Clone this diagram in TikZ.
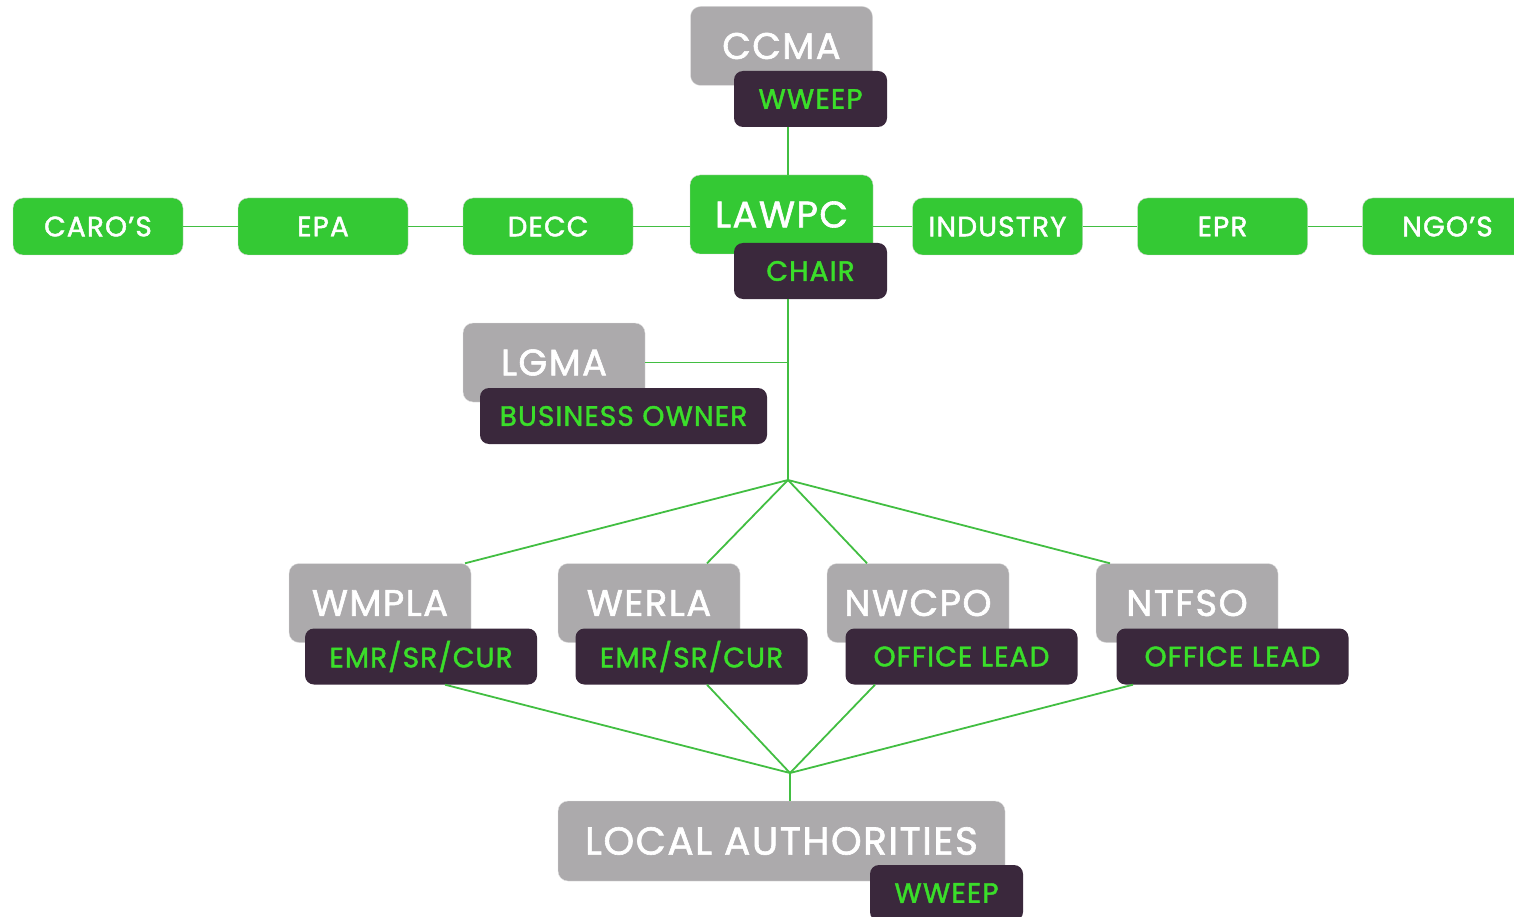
\documentclass[tikz,border=0pt]{standalone}
\usepackage{fontspec}
\setmainfont{Poppins}[FakeBold=1.6, LetterSpace=4]
\usepackage{tikz}
\usetikzlibrary{positioning}
\definecolor{boxgreen}{RGB}{52,201,52}
\definecolor{boxgrey}{RGB}{172,170,172}
\definecolor{tagdark}{RGB}{58,40,60}
\definecolor{taggreen}{RGB}{58,222,42}
\definecolor{linegreen}{RGB}{66,190,66}
\newcommand{\headfont}{\fontsize{37}{40}\selectfont}
\newcommand{\wordfont}{\fontsize{28}{30}\selectfont}
\tikzstyle{greybox} = [rectangle, rounded corners=10pt, minimum width=182pt, minimum height=79pt, text centered, draw=black!12, fill=boxgrey, text=white, font=\headfont]
\tikzstyle{greenbox} = [rectangle, rounded corners=10pt, text centered, draw=black!18, fill=boxgreen, text=white]
\tikzstyle{rowbox} = [greenbox, minimum width=170pt, minimum height=57pt, font=\wordfont]
\tikzstyle{tagbox} = [rectangle, rounded corners=9pt, minimum height=56pt, text centered, fill=tagdark, text=taggreen, font=\wordfont]
\tikzstyle{link} = [line width=1.8pt, draw=linegreen]

\begin{document}
\begin{tikzpicture}[x=1pt, y=-1pt, node distance=225pt]
\useasboundingbox (0,0) rectangle (1514,917);
\clip (0,0) rectangle (1514,917);

\coordinate (upperhub) at (788,480);
\coordinate (lowerhub) at (790,773);

% top of the chain
\node (ccma) [greybox] at (781.5,46) {CCMA};
\node (ccmatag) [tagbox, minimum width=153pt] at (810.5,99) {WWEEP};
\node (lawpc) [greenbox, minimum width=183pt, minimum height=79pt, font=\headfont] at (781.5,214.5) {LAWPC};
\node (chair) [tagbox, minimum width=153pt] at (810.5,271) {CHAIR};

% partners either side
\node (decc) [rowbox] at (548,226.5) {DECC};
\node (epa) [rowbox, left of=decc] {EPA};
\node (caros) [rowbox, left of=epa] {CARO'S};
\node (industry) [rowbox] at (997.5,226.5) {INDUSTRY};
\node (epr) [rowbox, right of=industry] {EPR};
\node (ngos) [rowbox, right of=epr] {NGO'S};

\node (lgma) [greybox] at (554,362.5) {LGMA};
\node (lgmatag) [tagbox, minimum width=287pt] at (623.5,416) {BUSINESS OWNER};

% regional groups
\node (wmpla) [greybox] at (380,603) {WMPLA};
\node (wmplatag) [tagbox, minimum width=232pt] at (421,656.5) {EMR/SR/CUR};
\node (werla) [greybox] at (649,603) {WERLA};
\node (werlatag) [tagbox, minimum width=232pt] at (691.5,656.5) {EMR/SR/CUR};
\node (nwcpo) [greybox] at (918,603) {NWCPO};
\node (nwcpotag) [tagbox, minimum width=232pt] at (961.5,656.5) {OFFICE LEAD};
\node (ntfso) [greybox] at (1187,603) {NTFSO};
\node (ntfsotag) [tagbox, minimum width=232pt] at (1232.5,656.5) {OFFICE LEAD};

\node (local) [greybox, minimum width=447pt, minimum height=80pt, font=\fontsize{39}{42}\selectfont] at (781.5,841) {LOCAL AUTHORITIES};
\node (localtag) [tagbox, minimum width=153pt] at (946.5,893) {WWEEP};

\draw [link] (ccmatag.south -| upperhub) -- (lawpc.north -| upperhub);
\draw [link] (caros) -- (epa);
\draw [link] (epa) -- (decc);
\draw [link] (decc) -- (decc -| lawpc.west);
\draw [link] (lawpc.east |- industry) -- (industry);
\draw [link] (industry) -- (epr);
\draw [link] (epr) -- (ngos);
\draw [link] (chair.south -| upperhub) -- (upperhub);
\draw [link] (lgma.east) -- (lgma.east -| upperhub);

\draw [link] (upperhub) -- ([xshift=85pt]wmpla.north);
\draw [link] (upperhub) -- ([xshift=58pt]werla.north);
\draw [link] (upperhub) -- ([xshift=-51pt]nwcpo.north);
\draw [link] (upperhub) -- ([xshift=-77pt]ntfso.north);

\draw [link] ([xshift=24pt]wmplatag.south) -- (lowerhub);
\draw [link] ([xshift=15.5pt]werlatag.south) -- (lowerhub);
\draw [link] ([xshift=-86.5pt]nwcpotag.south) -- (lowerhub);
\draw [link] ([xshift=-99.5pt]ntfsotag.south) -- (lowerhub);
\draw [link] (lowerhub) -- (lowerhub |- local.north);

\end{tikzpicture}
\end{document}
